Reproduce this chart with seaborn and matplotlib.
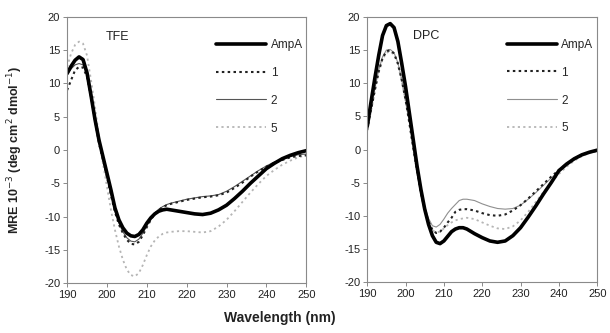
import numpy as np
import pandas as pd
import matplotlib
matplotlib.use("Agg")
import matplotlib.pyplot as plt
import seaborn as sns

wavelength = [190, 191, 192, 193, 194, 195, 196, 197, 198, 199, 200, 201, 202, 203, 204,
              205, 206, 207, 208, 209, 210, 211, 212, 213, 214, 215, 216, 218, 220, 222,
              224, 226, 228, 230, 232, 234, 236, 238, 240, 242, 244, 246, 248, 250]

# TFE panel
tfe_ampa = [11.5, 12.6, 13.5, 14.0, 13.6, 11.6, 8.2, 4.6, 1.5, -1.0, -3.5, -6.0, -8.7, -10.5, -11.7,
            -12.5, -12.9, -13.0, -12.7, -12.0, -11.0, -10.2, -9.6, -9.2, -9.0, -8.9, -9.0, -9.2, -9.4, -9.6,
            -9.7, -9.5, -9.0, -8.3, -7.3, -6.2, -5.0, -3.9, -2.8, -2.0, -1.3, -0.8, -0.4, -0.1]
tfe_1 = [9.0, 10.5, 12.0, 12.5, 12.4, 11.0, 8.0, 4.5, 1.0, -1.5, -4.0, -6.8, -9.3, -11.2, -12.5,
         -13.5, -14.1, -14.2, -13.8, -12.8, -11.6, -10.5, -9.6, -9.0, -8.6, -8.3, -8.1, -7.8, -7.5, -7.3,
         -7.1, -7.0, -6.8, -6.4, -5.7, -4.9, -4.0, -3.2, -2.5, -1.9, -1.5, -1.1, -0.9, -0.8]
tfe_2 = [11.3, 12.2, 12.8, 13.0, 12.8, 11.3, 8.3, 4.8, 1.2, -1.3, -3.8, -6.6, -9.1, -11.0, -12.3,
         -13.2, -13.7, -13.8, -13.4, -12.5, -11.4, -10.3, -9.5, -8.9, -8.5, -8.2, -8.0, -7.7, -7.4, -7.2,
         -7.0, -6.9, -6.7, -6.2, -5.5, -4.7, -3.9, -3.1, -2.4, -1.8, -1.4, -1.0, -0.7, -0.6]
tfe_5 = [12.5, 14.5, 15.8, 16.3, 16.0, 14.2, 10.5, 6.5, 2.0, -2.0, -5.5, -9.0, -12.0, -14.5, -16.5,
         -18.0, -18.8, -19.0, -18.5, -17.3, -15.8, -14.5, -13.6, -13.0, -12.6, -12.4, -12.3, -12.2, -12.2, -12.3,
         -12.4, -12.2, -11.5, -10.5, -9.2, -7.8, -6.4, -5.1, -3.9, -3.0, -2.2, -1.6, -1.1, -0.8]

# DPC panel
dpc_ampa = [3.5, 7.2, 10.8, 14.2, 17.2, 18.7, 19.0, 18.4, 16.3, 13.0, 9.5, 5.5, 1.5, -2.5, -6.0,
            -9.0, -11.3, -13.0, -14.0, -14.2, -13.8, -13.1, -12.4, -12.0, -11.8, -11.8, -12.0, -12.7, -13.3, -13.8,
            -14.0, -13.8, -13.0, -11.8, -10.2, -8.5, -6.7, -5.0, -3.2, -2.2, -1.4, -0.8, -0.4, -0.1]
dpc_1 = [3.0, 6.0, 9.0, 11.8, 13.8, 14.8, 15.0, 14.5, 13.0, 10.5, 7.5, 4.0, 0.3, -3.3, -6.5,
         -9.0, -10.9, -12.1, -12.6, -12.4, -11.8, -11.0, -10.3, -9.4, -9.1, -9.0, -9.0, -9.2, -9.6, -9.9,
         -10.0, -9.8, -9.2, -8.4, -7.4, -6.3, -5.2, -4.1, -3.1, -2.2, -1.4, -0.8, -0.4, -0.2]
dpc_2 = [3.2, 6.2, 9.2, 12.0, 14.0, 15.0, 15.1, 14.6, 13.1, 10.6, 7.6, 4.1, 0.4, -3.1, -6.2,
         -8.6, -10.4, -11.5, -11.7, -11.3, -10.5, -9.6, -8.9, -8.3, -7.7, -7.5, -7.5, -7.7, -8.2, -8.6,
         -8.9, -9.0, -8.9, -8.4, -7.5, -6.5, -5.4, -4.3, -3.3, -2.4, -1.5, -0.9, -0.4, -0.2]
dpc_5 = [2.8, 5.8, 8.8, 11.6, 13.6, 14.6, 14.8, 14.3, 12.8, 10.3, 7.3, 3.8, 0.1, -3.5, -6.7,
         -9.2, -11.1, -12.2, -12.5, -12.4, -11.9, -11.4, -11.0, -10.7, -10.5, -10.4, -10.3, -10.5, -11.0, -11.5,
         -11.9, -12.0, -11.6, -10.7, -9.4, -7.9, -6.4, -5.0, -3.7, -2.6, -1.7, -1.0, -0.5, -0.2]

series_labels = ["AmpA", "1", "2", "5"]
panel_names = ["TFE", "DPC"]
x_ticks = [190, 200, 210, 220, 230, 240, 250]
y_ticks = [-20, -15, -10, -5, 0, 5, 10, 15, 20]

sns.set_theme(style="ticks")
plt.rcParams["font.family"] = ["Liberation Sans", "DejaVu Sans"]
plt.rcParams["axes.unicode_minus"] = False

fig = plt.figure(figsize=(6.10, 3.33), dpi=100)
ax1 = fig.add_axes([0.110, 0.150, 0.392, 0.799])
ax2 = fig.add_axes([0.602, 0.153, 0.377, 0.796])

styles = {
    "AmpA": dict(color="black", lw=2.6, ls="-"),
    "1": dict(color="#222222", lw=1.5, ls=(0, (1.2, 1.6))),
    "2": None,
    "5": dict(color="#b5b5b5", lw=1.3, ls=(0, (1.2, 1.8))),
}
color2 = {"TFE": "#555555", "DPC": "#8f8f8f"}

panels = [(ax1, "TFE", [tfe_ampa, tfe_1, tfe_2, tfe_5], (199.8, 17.0)),
          (ax2, "DPC", [dpc_ampa, dpc_1, dpc_2, dpc_5], (202.0, 17.2))]

for ax, name, ser, tpos in panels:
    order = [3, 2, 1, 0]
    handles = {}
    for i in order:
        lab = series_labels[i]
        st = styles[lab] if lab != "2" else dict(color=color2[name], lw=0.8, ls="-")
        df = pd.DataFrame({"Wavelength": wavelength, "MRE": ser[i]})
        sns.lineplot(data=df, x="Wavelength", y="MRE", ax=ax, color=st["color"],
                     linewidth=st["lw"], linestyle=st["ls"], label=lab, legend=False)
        handles[lab] = ax.lines[-1]
    ax.set_xlim(190, 250)
    ax.set_ylim(-20, 20)
    ax.set_xticks(x_ticks)
    ax.set_yticks(y_ticks)
    ax.set_xlabel("")
    ax.set_ylabel("")
    ax.tick_params(axis="both", labelsize=8, length=3, width=0.6, color="#777777", pad=2,
                   labelcolor="#222222")
    for sp in ax.spines.values():
        sp.set_visible(True)
        sp.set_color("#8a8a8a")
        sp.set_linewidth(0.8)
    ax.text(tpos[0], tpos[1], name, fontsize=9, color="#222222", ha="left", va="center")
    ax.legend([handles[l] for l in series_labels], series_labels, loc="upper right",
              bbox_to_anchor=(1.015, 0.945), frameon=False, fontsize=8.5, handlelength=4.3,
              labelspacing=1.35, handletextpad=0.35, borderaxespad=0.2)

fig.text(0.025, 0.55, "MRE 10$^{-3}$ (deg cm$^{2}$ dmol$^{-1}$)", rotation=90,
         ha="center", va="center", fontsize=9, fontweight="bold", color="#222222")
fig.text(0.458, 0.045, "Wavelength (nm)", ha="center", va="center", fontsize=10,
         fontweight="bold", color="#222222")

fig.savefig("out.png", dpi=100)
